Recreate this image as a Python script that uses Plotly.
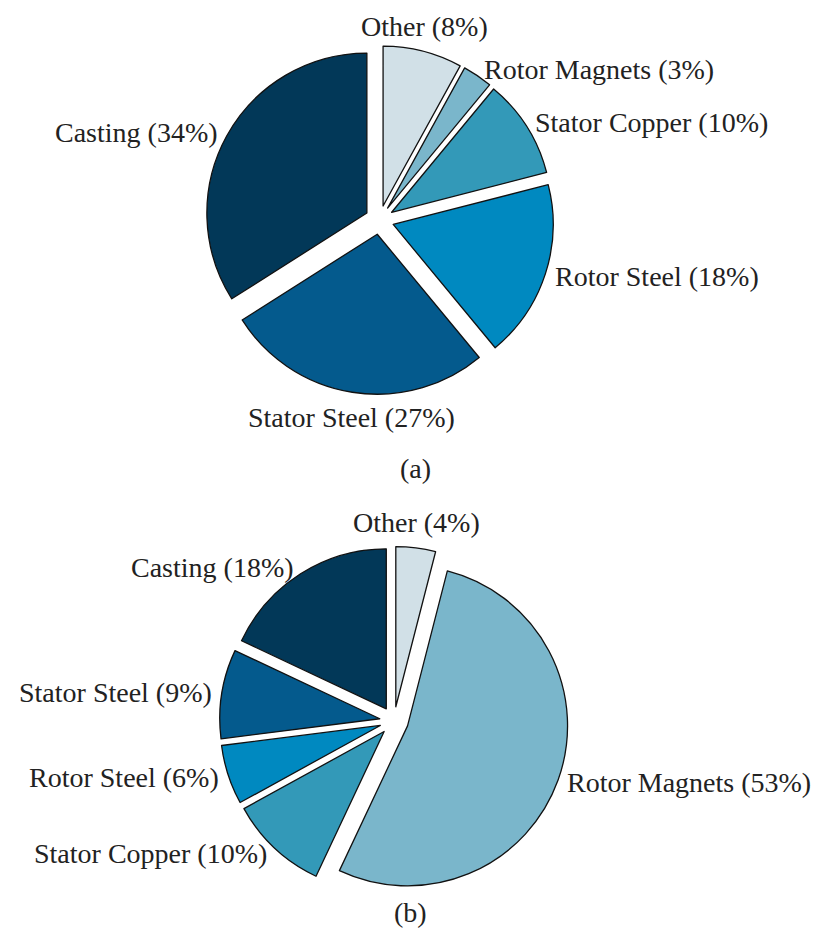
import math
import plotly.graph_objects as go

# Material cost shares for the two machine designs
categories = ["Other", "Rotor Magnets", "Stator Copper", "Rotor Steel", "Stator Steel", "Casting"]
shares_a = [8, 3, 10, 18, 27, 34]
shares_b = [4, 53, 10, 6, 9, 18]
captions = ["(a)", "(b)"]

colors = ["#d1e0e7", "#7ab6cb", "#3399b8", "#0089c0", "#045a8d", "#023858"]

W, H = 818, 930
PULL = 0.09
RADIUS = 160          # slice radius in px
LABEL_R = 182         # label distance from pie centre in px
FONT = dict(family="Liberation Serif, Times New Roman, serif", size=28, color="#222222")

# pie centres (px) and caption positions (px, caption bottom edge)
centres = [(379.5, 220.0), (394.0, 721.0)]
caption_pos = [(415, 486), (411, 930)]

fig = go.Figure()
annotations = []

for shares, (cx, cy), cap, (capx, capy) in zip([shares_a, shares_b], centres, captions, caption_pos):
    half = RADIUS * (1 + PULL)
    dom_x = [(cx - half) / W, (cx + half) / W]
    dom_y = [1 - (cy + half) / H, 1 - (cy - half) / H]
    fig.add_trace(go.Pie(
        labels=categories,
        values=shares,
        sort=False,
        direction="clockwise",
        rotation=0,
        pull=[PULL] * len(shares),
        marker=dict(colors=colors, line=dict(color="#111111", width=1.3)),
        textinfo="none",
        hoverinfo="label+percent",
        showlegend=False,
        domain=dict(x=dom_x, y=dom_y),
    ))

    total = sum(shares)
    cum = 0
    for name, v in zip(categories, shares):
        mid = math.radians(90 - 360 * (cum + v / 2) / total)
        cum += v
        c, s = math.cos(mid), math.sin(mid)
        lx = cx + LABEL_R * c
        ly = cy - LABEL_R * s
        if abs(c) < 0.3:
            xa = "center"
            ya = "bottom" if s > 0 else "top"
        else:
            xa = "left" if c > 0 else "right"
            ya = "middle"
        annotations.append(dict(
            x=lx / W, y=1 - ly / H, xref="paper", yref="paper",
            text=f"{name} ({round(100 * v / total)}%)",
            showarrow=False, xanchor=xa, yanchor=ya, font=FONT,
        ))

    annotations.append(dict(
        x=capx / W, y=1 - capy / H, xref="paper", yref="paper",
        text=cap, showarrow=False, xanchor="center", yanchor="bottom", font=FONT,
    ))

fig.update_layout(
    width=W, height=H,
    margin=dict(l=0, r=0, t=0, b=0),
    paper_bgcolor="white",
    plot_bgcolor="white",
    annotations=annotations,
)

fig.write_html("out.html")
